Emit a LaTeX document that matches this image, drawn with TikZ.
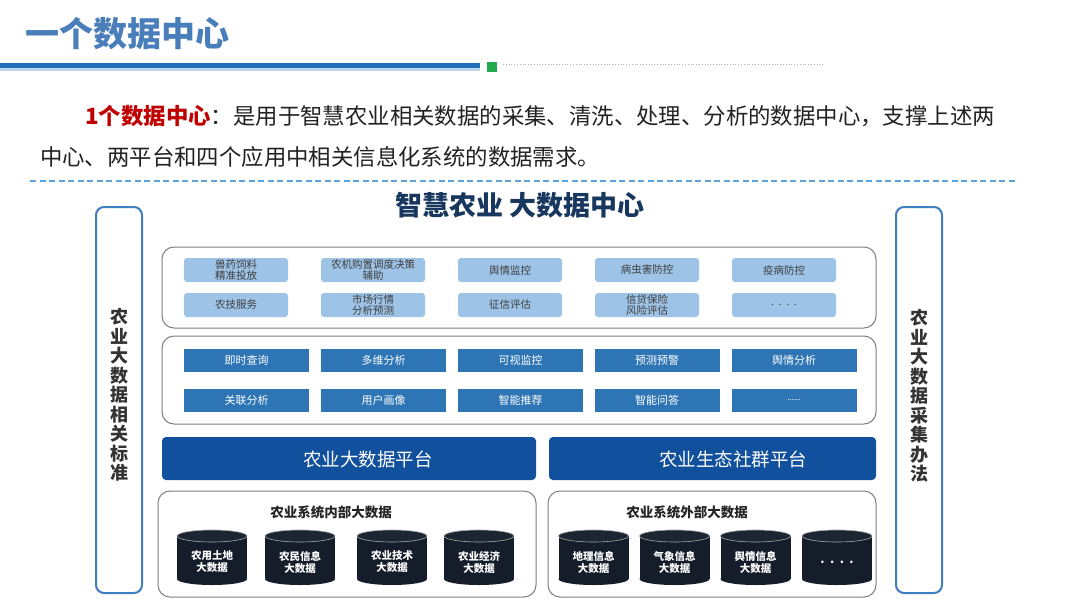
\documentclass[tikz,border=0pt]{standalone}
\usepackage{fontspec}
\setmainfont{Noto Sans CJK SC}
\definecolor{titleblue}{HTML}{4A7EBB}
\definecolor{lineblue}{HTML}{1F6FBA}
\definecolor{lightline}{HTML}{BDD7EE}
\definecolor{sqgreen}{HTML}{22A94F}
\definecolor{dashblue}{HTML}{5BA3D9}
\definecolor{navy}{HTML}{17375E}
\definecolor{sideborder}{HTML}{3E7FC1}
\definecolor{frame}{HTML}{7F7F7F}
\definecolor{appfill}{HTML}{9DC3E6}
\definecolor{apptext}{HTML}{3F3F3F}
\definecolor{funcfill}{HTML}{2E75B6}
\definecolor{platfill}{HTML}{11509C}
\definecolor{cylfill}{HTML}{141D29}
\definecolor{cyltop}{HTML}{1C2633}
\definecolor{redtext}{HTML}{C00000}
\definecolor{bodytext}{HTML}{222222}
\newcommand\dbcyl[4]{%
  \fill[cylfill] (#1-35,536) rectangle (#1+35,579);
  \fill[cylfill] (#1,579) ellipse[x radius=35,y radius=6];
  \filldraw[fill=cyltop,draw=gray!70,line width=0.6pt] (#1,536) ellipse[x radius=35,y radius=6];
  \node[cyltext] (#2) at (#1,562) {#3\\#4};
}
\begin{document}
\begin{tikzpicture}[x=1pt,y=-1pt,
  container/.style={draw=frame,line width=1pt,rounded corners=12pt,inner sep=0pt},
  appbox/.style={fill=appfill,rounded corners=3pt,minimum width=104pt,minimum height=24pt,inner sep=0pt,align=center,text=apptext,font=\fontsize{10.5}{11}\selectfont},
  funcbox/.style={fill=funcfill,minimum width=125pt,minimum height=23pt,inner sep=0pt,text=white,font=\fontsize{11}{12}\selectfont},
  platbox/.style={fill=platfill,rounded corners=4pt,minimum height=43pt,inner sep=0pt},
  plattext/.style={text=white,font=\fontsize{18.5}{20}\selectfont,inner sep=0pt},
  sidebox/.style={draw=sideborder,line width=2pt,rounded corners=8pt,minimum width=46pt,minimum height=386pt,inner sep=0pt},
  sidetext/.style={align=center,inner sep=0pt,text=black!80,font=\fontsize{18}{19.5}\selectfont\bfseries},
  cyltext/.style={align=center,inner sep=0pt,text=white,font=\fontsize{10.5}{12}\selectfont\bfseries},
  grouplabel/.style={inner sep=0pt,text=black!85,font=\fontsize{13.5}{14}\selectfont\bfseries}
]
\useasboundingbox (0,0) rectangle (1080,603);
\fill[white] (0,0) rectangle (1080,603);
% header
\node[anchor=west,inner sep=0pt,text=titleblue,font=\fontsize{34}{36}\selectfont\bfseries] (title) at (25,34) {一个数据中心};
\fill[lineblue] (0,63) rectangle (480,68);
\fill[lightline] (0,68) rectangle (480,71);
\fill[sqgreen] (487,62) rectangle (497,72);
\draw[gray!60,line width=0.8pt,dotted] (503,64.5) -- (824,64.5);
% paragraph
\node[anchor=west,inner sep=0pt,text=bodytext,font=\fontsize{22.4}{24}\selectfont] (para1) at (85,116) {{\color{redtext}\bfseries 1个数据中心}：是用于智慧农业相关数据的采集、清洗、处理、分析的数据中心，支撑上述两};
\node[anchor=west,inner sep=0pt,text=bodytext,font=\fontsize{22.4}{24}\selectfont] (para2) at (40,157) {中心、两平台和四个应用中相关信息化系统的数据需求。};
\draw[dashblue,line width=1.6pt,dash pattern=on 6pt off 3.5pt] (30,181) -- (1015,181);
% diagram title
\node[inner sep=0pt,text=navy,font=\fontsize{27}{29}\selectfont\bfseries] (dctitle) at (520,205) {智慧农业 大数据中心};
% side columns
\node[sidebox] (leftcol) at (119,400) {};
\node[sidetext] (lefttext) at (119,395) {农\\业\\大\\数\\据\\相\\关\\标\\准};
\node[sidebox] (rightcol) at (919,400) {};
\node[sidetext] (righttext) at (919,396) {农\\业\\大\\数\\据\\采\\集\\办\\法};
% application container
\node[container,minimum width=714pt,minimum height=81pt] (apps) at (519,287.5) {};
\node[appbox] (a1) at (236,270) {兽药饲料\\精准投放};
\node[appbox] (a2) at (373,270) {农机购置调度决策\\辅助};
\node[appbox] (a3) at (510,270) {舆情监控};
\node[appbox] (a4) at (647,270) {病虫害防控};
\node[appbox] (a5) at (784,270) {疫病防控};
\node[appbox] (b1) at (236,305) {农技服务};
\node[appbox] (b2) at (373,305) {市场行情\\分析预测};
\node[appbox] (b3) at (510,305) {征信评估};
\node[appbox] (b4) at (647,305) {信贷保险\\风险评估};
\node[appbox] (b5) at (784,305) {.\ \ .\ \ .\ \ .};
% function container
\node[container,minimum width=714pt,minimum height=88pt] (funcs) at (519,380) {};
\node[funcbox] (f1) at (246.5,360.5) {即时查询};
\node[funcbox] (f2) at (383.5,360.5) {多维分析};
\node[funcbox] (f3) at (520.5,360.5) {可视监控};
\node[funcbox] (f4) at (657,360.5) {预测预警};
\node[funcbox] (f5) at (794,360.5) {舆情分析};
\node[funcbox] (g1) at (246.5,400) {关联分析};
\node[funcbox] (g2) at (383.5,400) {用户画像};
\node[funcbox] (g3) at (520.5,400) {智能推荐};
\node[funcbox] (g4) at (657,400) {智能问答};
\node[funcbox,font=\fontsize{8}{9}\selectfont] (g5) at (794,400) {......};
% platforms
\node[platbox,minimum width=374pt] (plat1) at (349,458.5) {};
\node[plattext] (plat1t) at (368,459) {农业大数据平台};
\node[platbox,minimum width=327pt] (plat2) at (712.5,458.5) {};
\node[plattext] (plat2t) at (733,459) {农业生态社群平台};
% data containers
\node[container,minimum width=378pt,minimum height=106pt] (inner) at (347,544) {};
\node[grouplabel] (innerlab) at (331,512) {农业系统内部大数据};
\node[container,minimum width=328pt,minimum height=106pt] (outer) at (712,544) {};
\node[grouplabel] (outerlab) at (687,512) {农业系统外部大数据};
\dbcyl{212}{c1}{农用土地}{大数据}
\dbcyl{300}{c2}{农民信息}{大数据}
\dbcyl{392}{c3}{农业技术}{大数据}
\dbcyl{479}{c4}{农业经济}{大数据}
\dbcyl{593.5}{d1}{地理信息}{大数据}
\dbcyl{674.5}{d2}{气象信息}{大数据}
\dbcyl{755.5}{d3}{舆情信息}{大数据}
\fill[cylfill] (837-35,536) rectangle (837+35,579);
\fill[cylfill] (837,579) ellipse[x radius=35,y radius=6];
\filldraw[fill=cyltop,draw=gray!70,line width=0.6pt] (837,536) ellipse[x radius=35,y radius=6];
\node[cyltext,font=\fontsize{12}{12}\selectfont\bfseries] (d4) at (837,562) {.\ \ .\ \ .\ \ .};
\end{tikzpicture}
\end{document}
